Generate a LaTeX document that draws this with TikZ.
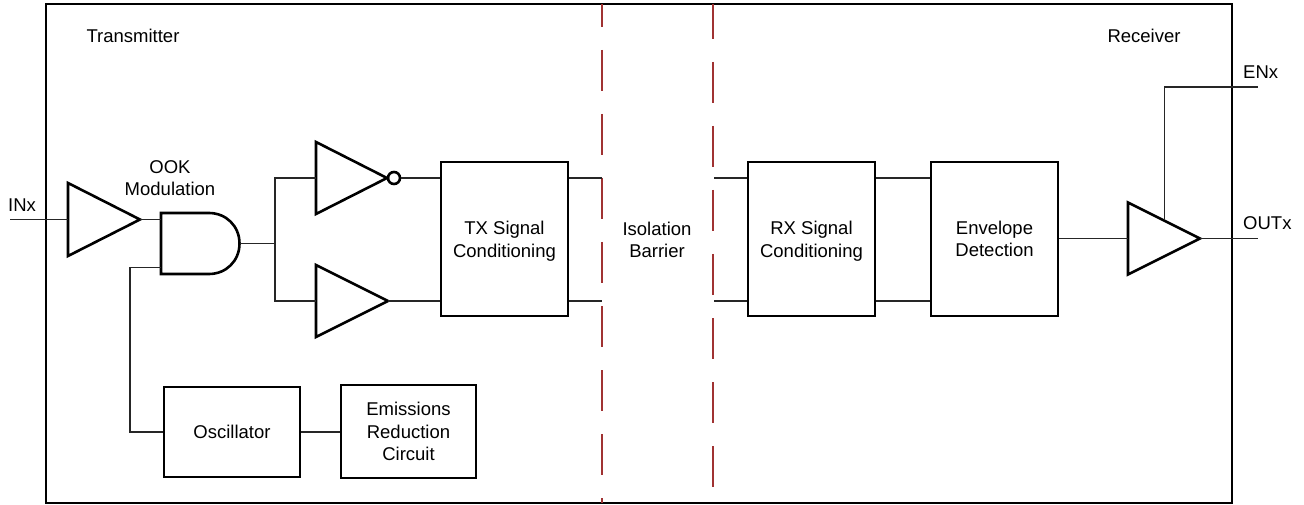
\documentclass[tikz,border=0pt]{standalone}
\usepackage{fontspec}
\setmainfont{Liberation Sans}
\definecolor{barriercol}{RGB}{160,50,50}
\tikzset{
  x=1pt,y=-1pt,
  thick line/.style={line width=2.6pt,line join=miter},
  wire/.style={line width=1.2pt,draw=black!85,line join=miter},
  block/.style={draw,line width=2.6pt,rectangle,align=center,inner sep=0pt,font=\fontsize{18.5}{22.5}\selectfont},
  lbl/.style={inner sep=0pt,align=center,font=\fontsize{18.5}{22.5}\selectfont},
  barrier/.style={line width=2.6pt,draw=barriercol}
}
% name, left x, tip y, half height, length
\newcommand{\bufgate}[5]{%
  \coordinate (#1-in) at (#2,#3);
  \coordinate (#1-out) at ({#2+#5},#3);
  \draw[thick line] (#2,{#3-#4}) -- ({#2+#5},#3) -- (#2,{#3+#4}) -- cycle;
}
\begin{document}
\begin{tikzpicture}
\useasboundingbox (0,0) rectangle (1304,505);
\fill[white] (0,0) rectangle (1304,505);
% pins
\coordinate (inpin) at (10,219.5);
\coordinate (enpin) at (1258,87);
\coordinate (outpin) at (1258,238.5);
% gates
\bufgate{b1}{68}{219.5}{36.5}{72}
\bufgate{inv}{316}{178}{36}{71}
\bufgate{b2}{316}{301}{36}{72}
\bufgate{b3}{1128}{238.5}{36}{72}
% and gate
\coordinate (and-a) at (161,219.5);
\coordinate (and-b) at (161,267.5);
\coordinate (and-out) at (239.5,243.5);
\draw[thick line] (161,213) -- (209,213) .. controls (226,213) and (239.5,226) .. (239.5,243.5) .. controls (239.5,261) and (226,274) .. (209,274) -- (161,274) -- cycle;
\node[draw,circle,line width=2.6pt,minimum size=12pt,inner sep=0pt] (bub) at (394,178) {};
% blocks
\node[block,minimum width=127pt,minimum height=154pt] (tx) at (504.5,239) {\rule{0pt}{17.5pt}TX Signal\\Conditioning};
\node[block,minimum width=127pt,minimum height=154pt] (rx) at (811.5,239) {\rule{0pt}{17.5pt}RX Signal\\Conditioning};
\node[block,minimum width=127pt,minimum height=154pt] (env) at (994.5,239) {Envelope\\Detection};
\node[block,minimum width=136pt,minimum height=90pt] (osc) at (232,432) {Oscillator};
\node[block,minimum width=135pt,minimum height=93pt] (emi) at (408.5,431.5) {Emissions\\Reduction\\Circuit};
% outer
\node[draw,line width=2.6pt,rectangle,minimum width=1186pt,minimum height=499pt,inner sep=0pt] (chip) at (639,253.5) {};
% barrier
\coordinate (bl-t) at (602,4); \coordinate (bl-b) at (602,503);
\coordinate (br-t) at (713,4); \coordinate (br-b) at (713,503);
\draw[barrier,dash pattern=on 41pt off 23pt,dash phase=18pt] (bl-t) -- (bl-b);
\draw[barrier,dash pattern=on 41pt off 23pt,dash phase=6pt] (br-t) -- (br-b);
% wires
\draw[wire] (inpin) -- (b1-in);
\draw[wire] (b1-out) -- (and-a);
\draw[wire] (osc.west) -| (130,267.5) -- (and-b);
\draw[wire] (osc.east) -- (emi.west|-osc.east);
\draw[wire] (and-out) -- (275,243.5) |- (inv-in);
\draw[wire] (275,243.5) |- (b2-in);
\draw[wire] (bub.east) -- (tx.west|-bub);
\draw[wire] (b2-out) -- (tx.west|-b2-out);
\coordinate (b-t) at (602,178); \coordinate (b-u) at (602,301);
\coordinate (c-t) at (714,178); \coordinate (c-u) at (714,301);
\draw[wire] (tx.east|-b-t) -- (b-t);
\draw[wire] (tx.east|-b-u) -- (b-u);
\draw[wire] (c-t) -- (rx.west|-c-t);
\draw[wire] (c-u) -- (rx.west|-c-u);
\draw[wire] (rx.east|-c-t) -- (env.west|-c-t);
\draw[wire] (rx.east|-c-u) -- (env.west|-c-u);
\draw[wire] (env.east|-b3-in) -- (b3-in);
\draw[wire] (b3-out) -- (outpin);
\coordinate (en-g) at (1164.5,220);
\draw[wire] (en-g) |- (enpin);
% labels
\node[lbl] (t1) at (133,36) {Transmitter};
\node[lbl] (t2) at (1144,36) {Receiver};
\node[lbl] (t3) at (22,205) {INx};
\node[lbl] (t4) at (170,178) {OOK\\Modulation};
\node[lbl] (t5) at (657,240) {Isolation\\Barrier};
\node[lbl,anchor=west] (t6) at (1243,72) {ENx};
\node[lbl,anchor=west] (t7) at (1243,223) {OUTx};
\end{tikzpicture}
\end{document}
